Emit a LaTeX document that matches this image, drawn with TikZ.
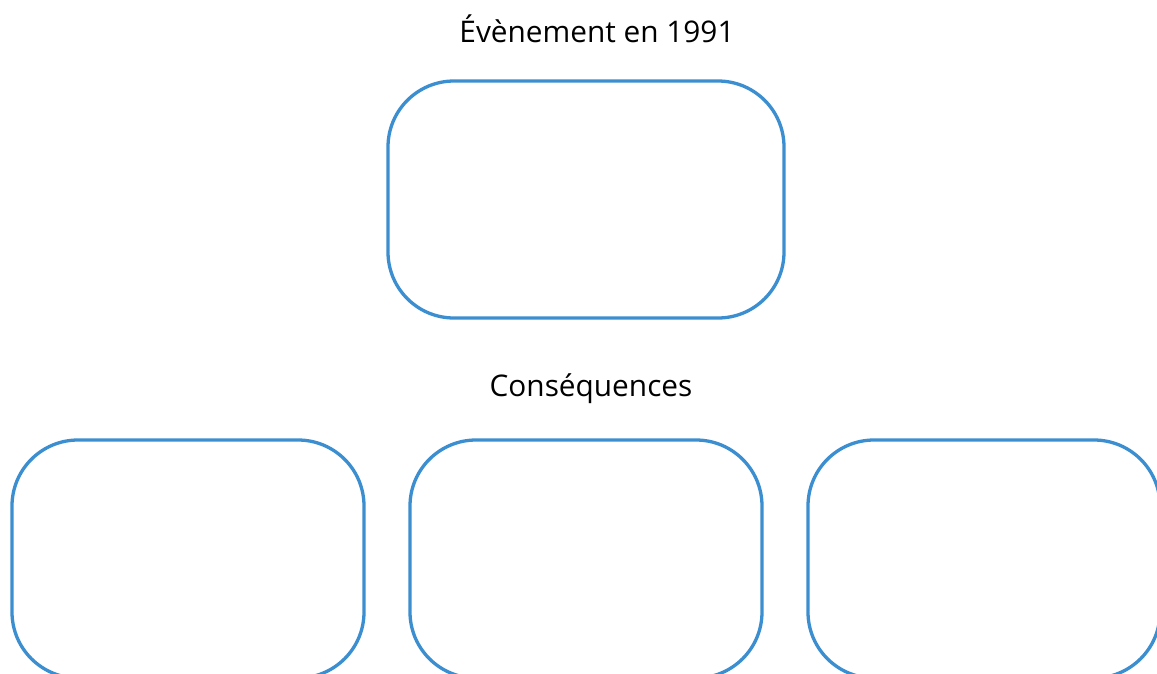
\documentclass[tikz,border=0pt]{standalone}
\usepackage{fontspec}
\setmainfont{Open Sans}
\definecolor{boxblue}{RGB}{59,142,207}
\begin{document}
\begin{tikzpicture}[x=1pt,y=-1pt,
  roundbox/.style={draw=boxblue, line width=3.3pt, rounded corners=66pt},
  title/.style={font=\fontsize{29.8}{34}\selectfont, text=black, inner sep=0pt, anchor=center}]
\useasboundingbox (0,0) rectangle (1157,673);
\clip (0,0) rectangle (1157,673);
\fill[white] (0,0) rectangle (1157,673);
\node[title] (t1) at (597,29) {Évènement en 1991};
\draw[roundbox] (388,81) rectangle (784,318);
\node[title] (t2) at (591,389) {Conséquences};
\draw[roundbox] (12,440) rectangle (364,678);
\draw[roundbox] (410,440) rectangle (762,678);
\draw[roundbox] (808,440) rectangle (1160,678);
\end{tikzpicture}
\end{document}
